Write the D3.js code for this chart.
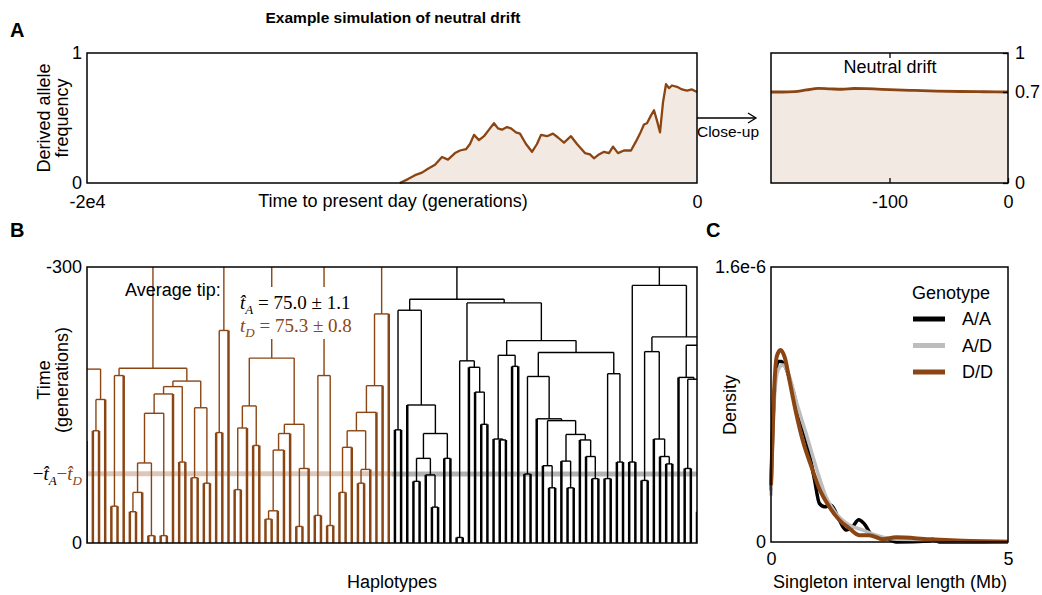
<!DOCTYPE html>
<html>
<head>
<meta charset="utf-8">
<script src="https://cdn.jsdelivr.net/npm/d3@7"></script>
<style>
  body { margin: 0; background: #fff; }
  svg text { font-family: "Liberation Sans", Arial, sans-serif; fill: #000; }
  .math { font-family: "Liberation Serif", "DejaVu Serif", serif; }
</style>
</head>
<body>
<svg id="chart" width="1042" height="595"></svg>
<script>
// ---------- data ----------
// panel A: derived allele frequency through time (generations before present)
var driftGen = [-9745, -9476, -9246, -9017, -8820, -8590, -8361, -8164, -7935, -7770,
  -7574, -7443, -7312, -7148, -6984, -6788, -6656, -6525, -6394, -6230,
  -6099, -5935, -5804, -5607, -5410, -5246, -5115, -4918, -4722, -4558,
  -4361, -4132, -3935, -3673, -3509, -3378, -3214, -3050, -2886, -2754,
  -2590, -2394, -2164, -2000, -1869, -1738, -1640, -1508, -1410, -1312,
  -1213, -1115, -1016, -918, -820, -656, -492, -328, -164, 0];
var driftFreq = [0, 0.03, 0.06, 0.08, 0.11, 0.14, 0.2, 0.18, 0.23, 0.25,
  0.26, 0.3, 0.37, 0.33, 0.36, 0.42, 0.46, 0.42, 0.41, 0.43,
  0.42, 0.39, 0.38, 0.3, 0.24, 0.3, 0.37, 0.36, 0.38, 0.35,
  0.31, 0.36, 0.3, 0.23, 0.22, 0.19, 0.22, 0.24, 0.23, 0.28,
  0.23, 0.25, 0.25, 0.32, 0.38, 0.45, 0.46, 0.52, 0.56, 0.48,
  0.39, 0.62, 0.76, 0.73, 0.75, 0.74, 0.72, 0.71, 0.72, 0.70];

// close-up, last 200 generations
var closeGen = [-200, -190, -180, -170, -160, -150, -140, -130, -120, -110, -100, -80, -60, -40, -20, 0];
var closeFreq = [0.700, 0.700, 0.703, 0.716, 0.728, 0.724, 0.721, 0.727, 0.726, 0.722, 0.718, 0.712, 0.707, 0.704, 0.702, 0.700];

// panel B: genealogy, node = [time, left, right], leaf = 0
var brownClades = [
  [189, [111, 0, 0], [156, [122, 0, 0], 0]],
  [190, [182, [40, 0, 0], 0],
        [176, [170, [162, [141, [87, [55, [34, 0, 0], 0], [8, 0, 0]], [8, 0, 0]], 0], [88, 0, 0]],
              [147, [71, 0, 0], [65, 0, 0]]]],
  [231, [120, 0, 0], 0],
  [201, [149, [125, [58, 0, 0], 0], [106, 0, 0]],
        [129, [119, [101, [35, [26, 0, 0], 0], 0], 0], [81, [18, 0, 0], 0]]],
  [182, [30, 0, 0], [19, 0, 0]],
  [249, [171, [142, [122, [104, [55, 0, 0], 0], [80, [65, 0, 0], 0]], 0], 0], 0]
];
var brownToTop = [false, true, true, true, true, true];

var blackClades = [
  [265, [253, [123, 0, 0], [150, 0, [119, [92, [67, 0, 0], [74, 0, [39, 0, 0]]], [92, 0, 0]]]],
        [261, [198, [6, 0, 0], [191, 0, [164, 0, [129, 0, 0]]]],
              [220, [204, [113, 0, [112, 0, 0]], [192, 0, 0]],
                    [207, [181, [75, 0, 0], [135, 0, [133, [84, 0, [60, 0, 0]],
                                                   [118, [89, 0, [60, 0, 0]], [112, 0, [94, 0, [70, 0, 0]]]]]]],
                          [184, [70, 0, 0], [88, 0, 0]]]]]],
  [280, [88, 0, 0],
        [224, [208, [68, 0, 0], [113, 0, [94, 0, [86, 0, 0]]]],
              [215, [180, 0, [178, [81, 0, 0], [34, 0, 0]]],
                    [190, [150, [120, [90, 0, 0], [90, 0, 0]], [120, [90, 0, 0], [90, 0, 0]]],
                          [150, [120, [90, 0, 0], [90, 0, 0]], [120, [90, 0, 0], [90, 0, 0]]]]]]]
];
var blackToTop = [true, true];

var tipTimeA = 75.0, tipErrA = 1.1;
var tipTimeD = 75.3, tipErrD = 0.8;

// panel C: density of singleton interval lengths (x in Mb, y in 1e-6)
var densityAA = [[0, 0.3], [0.06, 0.82], [0.15, 1.05], [0.22, 1.05], [0.32, 1.01], [0.46, 0.884], [0.6, 0.73],
  [0.78, 0.554], [0.92, 0.36], [1.02, 0.225], [1.13, 0.205], [1.27, 0.214], [1.41, 0.146], [1.58, 0.07],
  [1.72, 0.089], [1.85, 0.13], [1.97, 0.105], [2.14, 0.037], [2.32, 0.027], [2.46, 0.02], [2.64, 0.0],
  [3.34, 0.006], [3.41, 0.016], [3.55, 0.0], [5, 0]];
var densityAD = [[0, 0.27], [0.06, 0.78], [0.15, 1.0], [0.25, 1.03], [0.39, 0.962], [0.53, 0.82], [0.74, 0.632],
  [0.97, 0.419], [1.16, 0.264], [1.37, 0.167], [1.65, 0.099], [1.93, 0.07], [2.21, 0.04], [2.5, 0.021],
  [2.99, 0.012], [4.04, 0.006], [5, 0.002]];
var densityDD = [[0, 0.33], [0.06, 0.845], [0.12, 1.078], [0.2, 1.117], [0.29, 1.074], [0.39, 0.94], [0.53, 0.75],
  [0.67, 0.59], [0.85, 0.44], [1.02, 0.31], [1.23, 0.205], [1.44, 0.128], [1.65, 0.08], [1.86, 0.04],
  [2.07, 0.04], [2.36, 0.016], [2.64, 0.027], [3.34, 0.016], [4.04, 0.008], [5, 0.002]];
var genotypes = ["A/A", "A/D", "D/D"];

var BROWN = "#8b4513";
var FILL = "#f2e9e3";
var GREY = "#bdbdbd";

var svg = d3.select("#chart");

// plain hyphen for negative tick labels, as in the figure
var fmtInt = function(d) { return d < 0 ? "-" + Math.abs(d) : String(d); };

function styleAxis(g) {
  g.attr("font-size", 18).attr("font-family", "Liberation Sans, Arial, sans-serif");
  g.select(".domain").remove();
  g.selectAll("line").attr("stroke", "#000").attr("stroke-width", 1.3);
  g.selectAll("text").attr("fill", "#000");
}
function frame(x0, y0, x1, y1) {
  svg.append("rect").attr("x", x0).attr("y", y0).attr("width", x1 - x0).attr("height", y1 - y0)
    .attr("fill", "none").attr("stroke", "#000").attr("stroke-width", 1.5);
}

// ---------- title + panel letters ----------
svg.append("text").attr("x", 393).attr("y", 23).attr("text-anchor", "middle")
  .attr("font-weight", "bold").attr("font-size", 15.5).text("Example simulation of neutral drift");
[["A", 10, 37], ["B", 10, 237], ["C", 706, 237]].forEach(function(p) {
  svg.append("text").attr("x", p[1]).attr("y", p[2]).attr("font-weight", "bold").attr("font-size", 20).text(p[0]);
});

// ---------- panel A ----------
var xA = d3.scaleLinear().domain([-20000, 0]).range([87, 697]);
var yA = d3.scaleLinear().domain([0, 1]).range([183, 53]);
var drift = driftGen.map(function(g, i) { return {g: g, f: driftFreq[i]}; });

svg.append("path").datum(drift)
  .attr("d", d3.area().x(function(d) { return xA(d.g); }).y0(yA(0)).y1(function(d) { return yA(d.f); }))
  .attr("fill", FILL);
svg.append("path").datum(drift)
  .attr("d", d3.line().x(function(d) { return xA(d.g); }).y(function(d) { return yA(d.f); }))
  .attr("fill", "none").attr("stroke", BROWN).attr("stroke-width", 2.3).attr("stroke-linejoin", "round");
frame(87, 53, 697, 183);

svg.append("g").attr("transform", "translate(87,0)")
  .call(d3.axisLeft(yA).tickValues([0, 1]).tickSize(0).tickPadding(5).tickFormat(d3.format("d")))
  .call(styleAxis);
svg.append("g").attr("transform", "translate(0,183)")
  .call(d3.axisBottom(xA).tickValues([-20000, 0]).tickSize(0).tickPadding(12)
    .tickFormat(function(d) { return d === 0 ? "0" : "-2e4"; }))
  .call(styleAxis);
svg.append("text").attr("x", 393).attr("y", 207).attr("text-anchor", "middle").attr("font-size", 18)
  .text("Time to present day (generations)");
svg.append("text").attr("transform", "translate(50,118) rotate(-90)").attr("text-anchor", "middle")
  .attr("font-size", 18).text("Derived allele");
svg.append("text").attr("transform", "translate(68,118) rotate(-90)").attr("text-anchor", "middle")
  .attr("font-size", 18).text("frequency");

// arrow to close-up
svg.append("line").attr("x1", 697).attr("x2", 755).attr("y1", 118).attr("y2", 118)
  .attr("stroke", "#000").attr("stroke-width", 1.3);
svg.append("path").attr("d", "M748,113 L756,118 L748,123").attr("fill", "none")
  .attr("stroke", "#000").attr("stroke-width", 1.3);
svg.append("text").attr("x", 728).attr("y", 137).attr("text-anchor", "middle").attr("font-size", 15.5)
  .text("Close-up");

// close-up panel
var xZ = d3.scaleLinear().domain([-200, 0]).range([771, 1008]);
var closeUp = closeGen.map(function(g, i) { return {g: g, f: closeFreq[i]}; });
svg.append("path").datum(closeUp)
  .attr("d", d3.area().x(function(d) { return xZ(d.g); }).y0(yA(0)).y1(function(d) { return yA(d.f); })
    .curve(d3.curveMonotoneX))
  .attr("fill", FILL);
svg.append("path").datum(closeUp)
  .attr("d", d3.line().x(function(d) { return xZ(d.g); }).y(function(d) { return yA(d.f); })
    .curve(d3.curveMonotoneX))
  .attr("fill", "none").attr("stroke", BROWN).attr("stroke-width", 2.8);
frame(771, 53, 1008, 183);
svg.append("g").attr("transform", "translate(1008,0)")
  .call(d3.axisRight(yA).tickValues([0, 0.7, 1]).tickSizeInner(-5).tickSizeOuter(0).tickPadding(7)
    .tickFormat(d3.format("")))
  .call(styleAxis);
svg.append("g").attr("transform", "translate(0,183)")
  .call(d3.axisBottom(xZ).tickValues([-100, 0]).tickSizeInner(-5).tickSizeOuter(0).tickPadding(12)
    .tickFormat(fmtInt))
  .call(styleAxis);
svg.append("g").attr("transform", "translate(0,53)")
  .call(d3.axisTop(xZ).tickValues([-100]).tickSizeInner(-5).tickSizeOuter(0).tickFormat(""))
  .call(styleAxis);
svg.append("text").attr("x", 890).attr("y", 73).attr("text-anchor", "middle").attr("font-size", 18)
  .text("Neutral drift");

// ---------- panel B ----------
var xB = d3.scaleLinear().domain([0, 99]).range([86.7, 697]);
var yB = d3.scaleLinear().domain([0, 300]).range([543, 267]);

svg.append("clipPath").attr("id", "clipB").append("rect")
  .attr("x", 87).attr("y", 267).attr("width", 610).attr("height", 276);
var gB = svg.append("g").attr("clip-path", "url(#clipB)");

// average tip bands
var split = (xB(49) + xB(50)) / 2;
gB.append("line").attr("x1", 87).attr("x2", split).attr("y1", yB(tipTimeD)).attr("y2", yB(tipTimeD))
  .attr("stroke", BROWN).attr("stroke-opacity", 0.3).attr("stroke-width", 5);
gB.append("line").attr("x1", split).attr("x2", 697).attr("y1", yB(tipTimeA)).attr("y2", yB(tipTimeA))
  .attr("stroke", "#000").attr("stroke-opacity", 0.3).attr("stroke-width", 5);

function drawClades(clades, toTop, color, firstLeaf) {
  var leafIdx = firstLeaf;
  clades.forEach(function(c, k) {
    var root = d3.hierarchy(c, function(d) { return Array.isArray(d) ? d.slice(1) : null; });
    root.leaves().forEach(function(l) { l.idx = leafIdx++; });
    root.eachAfter(function(n) {
      n.t = Array.isArray(n.data) ? n.data[0] : 0;
      n.px = n.children ? d3.mean(n.children, function(ch) { return ch.px; }) : xB(n.idx);
    });
    var g = gB.append("g").attr("stroke", color).attr("fill", "none");
    root.each(function(n) {
      if (n.children) {
        g.append("line").attr("x1", n.children[0].px).attr("x2", n.children[1].px)
          .attr("y1", yB(n.t)).attr("y2", yB(n.t)).attr("stroke-width", 1.4);
      }
      var tTop = n.parent ? n.parent.t : (toTop[k] ? 320 : null);
      if (tTop !== null) {
        g.append("line").attr("x1", n.px).attr("x2", n.px)
          .attr("y1", yB(n.t)).attr("y2", yB(tTop))
          .attr("stroke-width", n.children ? 1.4 : 2.5);
      }
    });
  });
}
drawClades(brownClades, brownToTop, BROWN, -1);
drawClades(blackClades, blackToTop, "#000", 50);
frame(87, 267, 697, 543);

svg.append("g").attr("transform", "translate(87,0)")
  .call(d3.axisLeft(yB).tickValues([0, 300]).tickSize(0).tickPadding(5)
    .tickFormat(function(d) { return d === 0 ? "0" : "-300"; }))
  .call(styleAxis);

// tip labels
svg.append("text").attr("x", 125).attr("y", 296).attr("font-size", 18).text("Average tip:");
svg.append("rect").attr("x", 235).attr("y", 287).attr("width", 122).attr("height", 52).attr("fill", "#fff");
var mA = svg.append("text").attr("class", "math").attr("x", 240).attr("y", 309).attr("font-size", 19);
mA.append("tspan").attr("font-style", "italic").text("t\u0302");
mA.append("tspan").attr("font-style", "italic").attr("font-size", 13).attr("dy", 5).text("A");
mA.append("tspan").attr("dy", -5).text(" = " + tipTimeA.toFixed(1) + " \u00b1 " + tipErrA.toFixed(1));
var mD = svg.append("text").attr("class", "math").attr("x", 240).attr("y", 332).attr("font-size", 19)
  .style("fill", BROWN);
mD.append("tspan").attr("font-style", "italic").text("t");
mD.append("tspan").attr("font-style", "italic").attr("font-size", 13).attr("dy", 5).text("D");
mD.append("tspan").attr("dy", -5).text(" = " + tipTimeD.toFixed(1) + " \u00b1 " + tipErrD.toFixed(1));

var mT = svg.append("text").attr("class", "math").attr("x", 82).attr("y", yB(tipTimeA) + 6)
  .attr("text-anchor", "end").attr("font-size", 19);
mT.append("tspan").text("\u2212");
mT.append("tspan").attr("font-style", "italic").text("t\u0302");
mT.append("tspan").attr("font-style", "italic").attr("font-size", 13).attr("dy", 5).text("A");
mT.append("tspan").attr("dy", -5).style("fill", BROWN).text("\u2212");
mT.append("tspan").attr("font-style", "italic").style("fill", BROWN).text("t\u0302");
mT.append("tspan").attr("font-style", "italic").attr("font-size", 13).attr("dy", 5).style("fill", BROWN).text("D");

svg.append("text").attr("transform", "translate(50,380) rotate(-90)").attr("text-anchor", "middle")
  .attr("font-size", 18).text("Time");
svg.append("text").attr("transform", "translate(68,380) rotate(-90)").attr("text-anchor", "middle")
  .attr("font-size", 18).text("(generations)");
svg.append("text").attr("x", 392).attr("y", 588).attr("text-anchor", "middle").attr("font-size", 18)
  .text("Haplotypes");

// ---------- panel C ----------
var xC = d3.scaleLinear().domain([0, 5]).range([771, 1008]);
var yC = d3.scaleLinear().domain([0, 1.6]).range([542, 267]);
var lineC = d3.line().x(function(d) { return xC(d[0]); }).y(function(d) { return yC(d[1]); })
  .curve(d3.curveMonotoneX);
var seriesC = [
  {name: genotypes[0], pts: densityAA, color: "#000", w: 3.5},
  {name: genotypes[1], pts: densityAD, color: GREY, w: 3.5},
  {name: genotypes[2], pts: densityDD, color: BROWN, w: 4}
];
seriesC.forEach(function(s) {
  svg.append("path").datum(s.pts).attr("d", lineC).attr("fill", "none")
    .attr("stroke", s.color).attr("stroke-width", s.w).attr("stroke-linejoin", "round");
});
frame(771, 267, 1008, 542);
svg.append("g").attr("transform", "translate(771,0)")
  .call(d3.axisLeft(yC).tickValues([0, 1.6]).tickSize(0).tickPadding(5)
    .tickFormat(function(d) { return d === 0 ? "0" : "1.6e-6"; }))
  .call(styleAxis);
svg.append("g").attr("transform", "translate(0,542)")
  .call(d3.axisBottom(xC).tickValues([0, 5]).tickSize(0).tickPadding(10).tickFormat(d3.format("d")))
  .call(styleAxis);
svg.append("text").attr("x", 890).attr("y", 588).attr("text-anchor", "middle").attr("font-size", 18)
  .text("Singleton interval length (Mb)");
svg.append("text").attr("transform", "translate(736,405) rotate(-90)").attr("text-anchor", "middle")
  .attr("font-size", 18).text("Density");

// legend
svg.append("text").attr("x", 912).attr("y", 299).attr("font-size", 18).text("Genotype");
seriesC.forEach(function(s, i) {
  var y = 319 + i * 26.5;
  svg.append("line").attr("x1", 913).attr("x2", 945).attr("y1", y).attr("y2", y)
    .attr("stroke", s.color).attr("stroke-width", 5);
  svg.append("text").attr("x", 962).attr("y", y).attr("dy", "0.35em").attr("font-size", 18).text(s.name);
});
</script>
</body>
</html>
